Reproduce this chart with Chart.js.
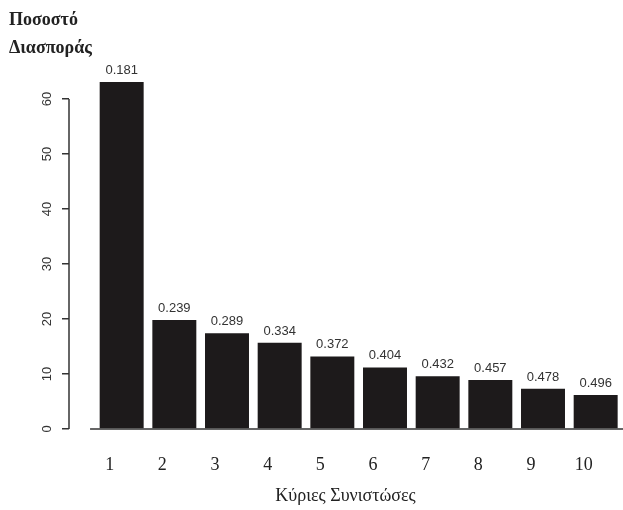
<!DOCTYPE html>
<html>
<head>
<meta charset="utf-8">
<script src="https://cdn.jsdelivr.net/npm/chart.js@4"></script>
<style>
  html, body { margin: 0; padding: 0; background: #fff; }
  #wrap { width: 623px; height: 510px; }
</style>
</head>
<body>
<div id="wrap"><canvas id="chart"></canvas></div>
<script>
// components on the x axis
const components = [1, 2, 3, 4, 5, 6, 7, 8, 9, 10];
// percentage of variance per component
const variancePct = [63.1, 19.8, 17.4, 15.7, 13.2, 11.2, 9.6, 8.9, 7.3, 6.2];
// numbers printed above each bar
const barLabels = ["0.181", "0.239", "0.289", "0.334", "0.372", "0.404", "0.432", "0.457", "0.478", "0.496"];
const yTicks = [0, 10, 20, 30, 40, 50, 60];

const ink = "#222";
const serif = "'Liberation Serif', 'DejaVu Serif', serif";
const sans = "'Liberation Sans', Arial, sans-serif";

// draws the R-style axis lines and the numbers above the bars
const decorPlugin = {
  id: "decor",
  afterDatasetsDraw(chart) {
    const ctx = chart.ctx;
    const x = chart.scales.x;
    const y = chart.scales.y;
    ctx.save();
    ctx.strokeStyle = "#333";
    ctx.lineWidth = 1.5;
    // y axis line only from first to last tick
    ctx.beginPath();
    ctx.moveTo(x.left, y.getPixelForValue(yTicks[0]));
    ctx.lineTo(x.left, y.getPixelForValue(yTicks[yTicks.length - 1]));
    ctx.stroke();
    // baseline under the bars
    ctx.beginPath();
    ctx.moveTo(x.getPixelForValue(0.4), y.getPixelForValue(0));
    ctx.lineTo(chart.width, y.getPixelForValue(0));
    ctx.stroke();

    // value labels
    ctx.fillStyle = "#333";
    ctx.font = "13px " + sans;
    ctx.textAlign = "center";
    ctx.textBaseline = "bottom";
    const meta = chart.getDatasetMeta(0);
    meta.data.forEach((bar, i) => {
      ctx.fillText(barLabels[i], bar.x, bar.y - 5);
    });
    ctx.restore();
  },
};

new Chart(document.getElementById("chart"), {
  type: "bar",
  data: {
    datasets: [
      {
        data: components.map((c, i) => ({ x: c, y: variancePct[i] })),
        backgroundColor: "#1d1a1b",
        borderWidth: 0,
        barPercentage: 0.835,
        categoryPercentage: 1,
      },
    ],
  },
  options: {
    responsive: true,
    maintainAspectRatio: false,
    animation: false,
    layout: { padding: { left: 9, right: 1, top: 0, bottom: 0 } },
    plugins: {
      legend: { display: false },
      tooltip: { enabled: false },
      title: {
        display: true,
        text: ["Ποσοστό", "Διασποράς"],
        align: "start",
        color: ink,
        font: { family: serif, size: 18, weight: "bold", lineHeight: 1.556 },
        padding: { top: 6, bottom: 4 },
      },
    },
    scales: {
      x: {
        type: "linear",
        offset: false,
        min: 0,
        max: 10.5,
        afterBuildTicks: (s) => {
          s.ticks = components.map((c) => ({ value: c }));
        },
        afterFit: (s) => {
          s.height = 81;
        },
        grid: { display: false, offset: false },
        border: { display: false },
        ticks: {
          stepSize: 1,
          padding: 17,
          labelOffset: -12,
          color: ink,
          font: { family: serif, size: 18 },
        },
        title: {
          display: true,
          text: "Κύριες Συνιστώσες",
          color: ink,
          font: { family: serif, size: 18 },
          padding: { top: 0, bottom: 3 },
        },
      },
      y: {
        min: 0,
        max: 66,
        afterBuildTicks: (s) => {
          s.ticks = yTicks.map((v) => ({ value: v }));
        },
        afterFit: (s) => {
          s.width = 60;
        },
        grid: {
          display: true,
          drawOnChartArea: false,
          drawTicks: true,
          tickLength: 7,
          color: "#333",
          lineWidth: 1.5,
        },
        border: { display: false },
        ticks: {
          minRotation: 90,
          maxRotation: 90,
          crossAlign: "center",
          padding: 7,
          color: "#333",
          font: { family: sans, size: 13 },
        },
      },
    },
  },
  plugins: [decorPlugin],
});
</script>
</body>
</html>
